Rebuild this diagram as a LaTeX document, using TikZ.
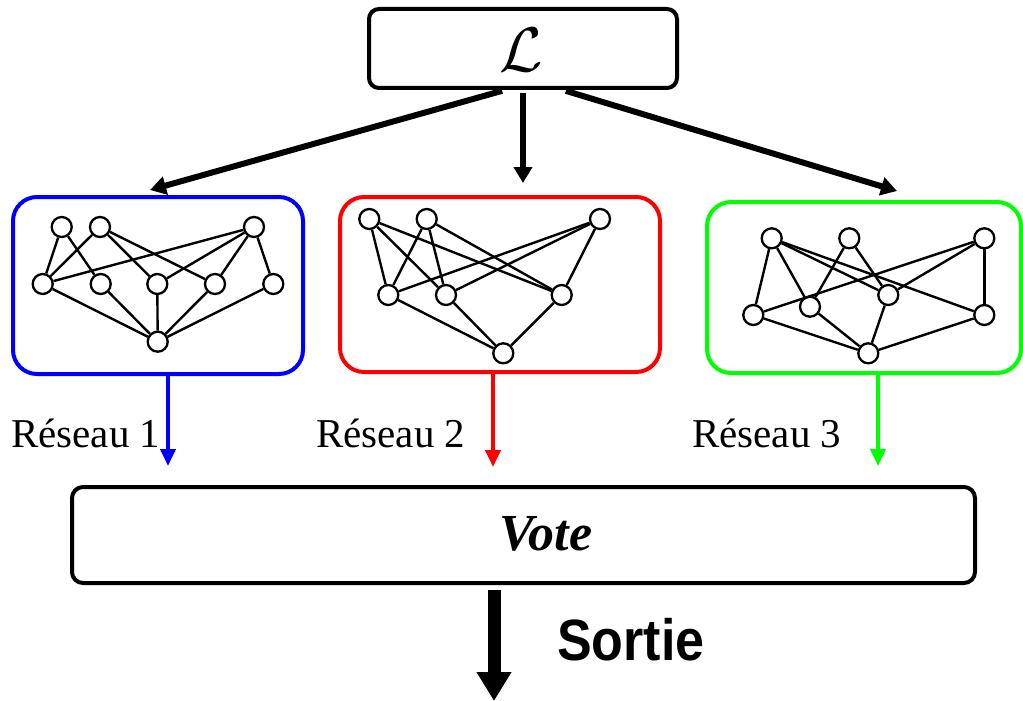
\documentclass[tikz,border=0pt]{standalone}
\usepackage{fontspec}
\setmainfont{Liberation Serif}
\newfontfamily\sortiefont{Liberation Sans}
\usetikzlibrary{arrows.meta}

\begin{document}
\begin{tikzpicture}[x=1pt,y=-1pt,
  neuron/.style={circle,draw,line width=2.3pt,minimum size=20pt,inner sep=0pt},
  syn/.style={line width=2.4pt},
  netbox/.style={draw,rounded corners=24pt,line width=4pt,inner sep=0pt},
  titlebox/.style={draw,rounded corners=10pt,line width=4pt,inner sep=0pt,
    minimum width=308pt,minimum height=79pt},
  votebox/.style={draw,rounded corners=11pt,line width=4pt,inner sep=0pt,
    minimum width=903pt,minimum height=96pt},
  feed/.style={line width=6pt,-{Triangle[width=18pt,length=16pt]}},
  outarrow/.style={line width=4pt,-{Triangle[width=15pt,length=17pt]}},
  bigarrow/.style={line width=13pt,-{Triangle[width=33pt,length=29pt]}},
  label/.style={font=\fontsize{41}{41}\selectfont,inner sep=0pt,anchor=base west}
]
\useasboundingbox (0,0) rectangle (1023,701);

% learning set
\node[titlebox] (L) at (523,48.5) {};
\node[inner sep=0pt] (Ltxt) at (521,50) {\scalebox{6.3}{$\mathcal{L}$}};

% the three network frames
\node[netbox,draw=blue,minimum width=290pt,minimum height=177pt] (netb) at (158,285.5) {};
\node[netbox,draw=red,minimum width=320pt,minimum height=175pt] (netr) at (500,284.5) {};
\node[netbox,draw=green,minimum width=314pt,minimum height=171pt] (netg) at (864,287.5) {};

% vote box
\node[votebox] (V) at (523.5,535) {};
\node[inner sep=0pt,anchor=base] (votetxt) at (546,550)
  {\fontsize{52}{52}\selectfont\bfseries\itshape Vote};

% network 1
\node[neuron] (b1) at (61.7,227) {};
\node[neuron] (b2) at (100,227) {};
\node[neuron] (b3) at (254,227) {};
\node[neuron] (b4) at (42.7,284) {};
\node[neuron] (b5) at (100.7,284) {};
\node[neuron] (b6) at (157.3,284) {};
\node[neuron] (b7) at (215,284) {};
\node[neuron] (b8) at (273.3,284) {};
\node[neuron] (b9) at (157.7,341.7) {};
\foreach \a/\b in {b1/b4,b2/b4,b1/b5,b2/b6,b2/b7,b3/b4,b3/b6,b3/b7,b3/b8,
                   b4/b9,b5/b9,b6/b9,b7/b9,b8/b9}
  \draw[syn] (\a) -- (\b);

% network 2
\node[neuron] (r1) at (369.3,219) {};
\node[neuron] (r2) at (426.7,219) {};
\node[neuron] (r3) at (600,219) {};
\node[neuron] (r4) at (388.3,295) {};
\node[neuron] (r5) at (446,295) {};
\node[neuron] (r6) at (561.7,295) {};
\node[neuron] (r7) at (503.3,353.3) {};
\foreach \a/\b in {r1/r4,r1/r5,r1/r6,r2/r4,r2/r5,r2/r6,r3/r4,r3/r5,r3/r6,
                   r4/r7,r5/r7,r6/r7}
  \draw[syn] (\a) -- (\b);

% network 3
\node[neuron] (g1) at (771.7,238.3) {};
\node[neuron] (g2) at (849.3,238.3) {};
\node[neuron] (g3) at (984.3,238.3) {};
\node[neuron] (g4) at (753.3,315) {};
\node[neuron] (g5) at (810,306.7) {};
\node[neuron] (g6) at (888.3,295) {};
\node[neuron] (g7) at (984.3,315) {};
\node[neuron] (g8) at (868.3,353.3) {};
\foreach \a/\b in {g1/g4,g1/g5,g1/g6,g1/g7,g2/g5,g2/g6,g3/g4,g3/g6,g3/g7,
                   g4/g8,g5/g8,g6/g8,g7/g8}
  \draw[syn] (\a) -- (\b);

% feeding the networks
\coordinate (tipb) at (150,190);
\coordinate (tipr) at (523,183);
\coordinate (tipg) at (897,191);
\draw[feed,shorten <=3pt] ([xshift=-18pt]L.south) -- (tipb);
\draw[feed,shorten <=3pt] (L.south) -- (tipr);
\draw[feed,shorten <=3pt] ([xshift=40pt]L.south) -- (tipg);

% network labels
\node[label] (lb) at (11,447) {Réseau 1};
\node[label] (lr) at (316,447) {Réseau 2};
\node[label] (lg) at (692,447) {Réseau 3};

% outputs to the vote
\coordinate (endb) at (168,466);
\coordinate (endr) at (493,467);
\coordinate (endg) at (878,466);
\draw[outarrow,blue] ([xshift=10pt]netb.south) -- (endb);
\draw[outarrow,red] ([xshift=-7pt]netr.south) -- (endr);
\draw[outarrow,green] ([xshift=14pt]netg.south) -- (endg);

% final output
\coordinate (out) at (494,701);
\draw[bigarrow,shorten <=5pt] ([xshift=-29.5pt]V.south) -- (out);
\node[inner sep=0pt,anchor=base west] (sortie) at (557,660)
  {\sortiefont\bfseries\scalebox{1}[1.12]{\fontsize{52}{52}\selectfont Sortie}};
\end{tikzpicture}
\end{document}
